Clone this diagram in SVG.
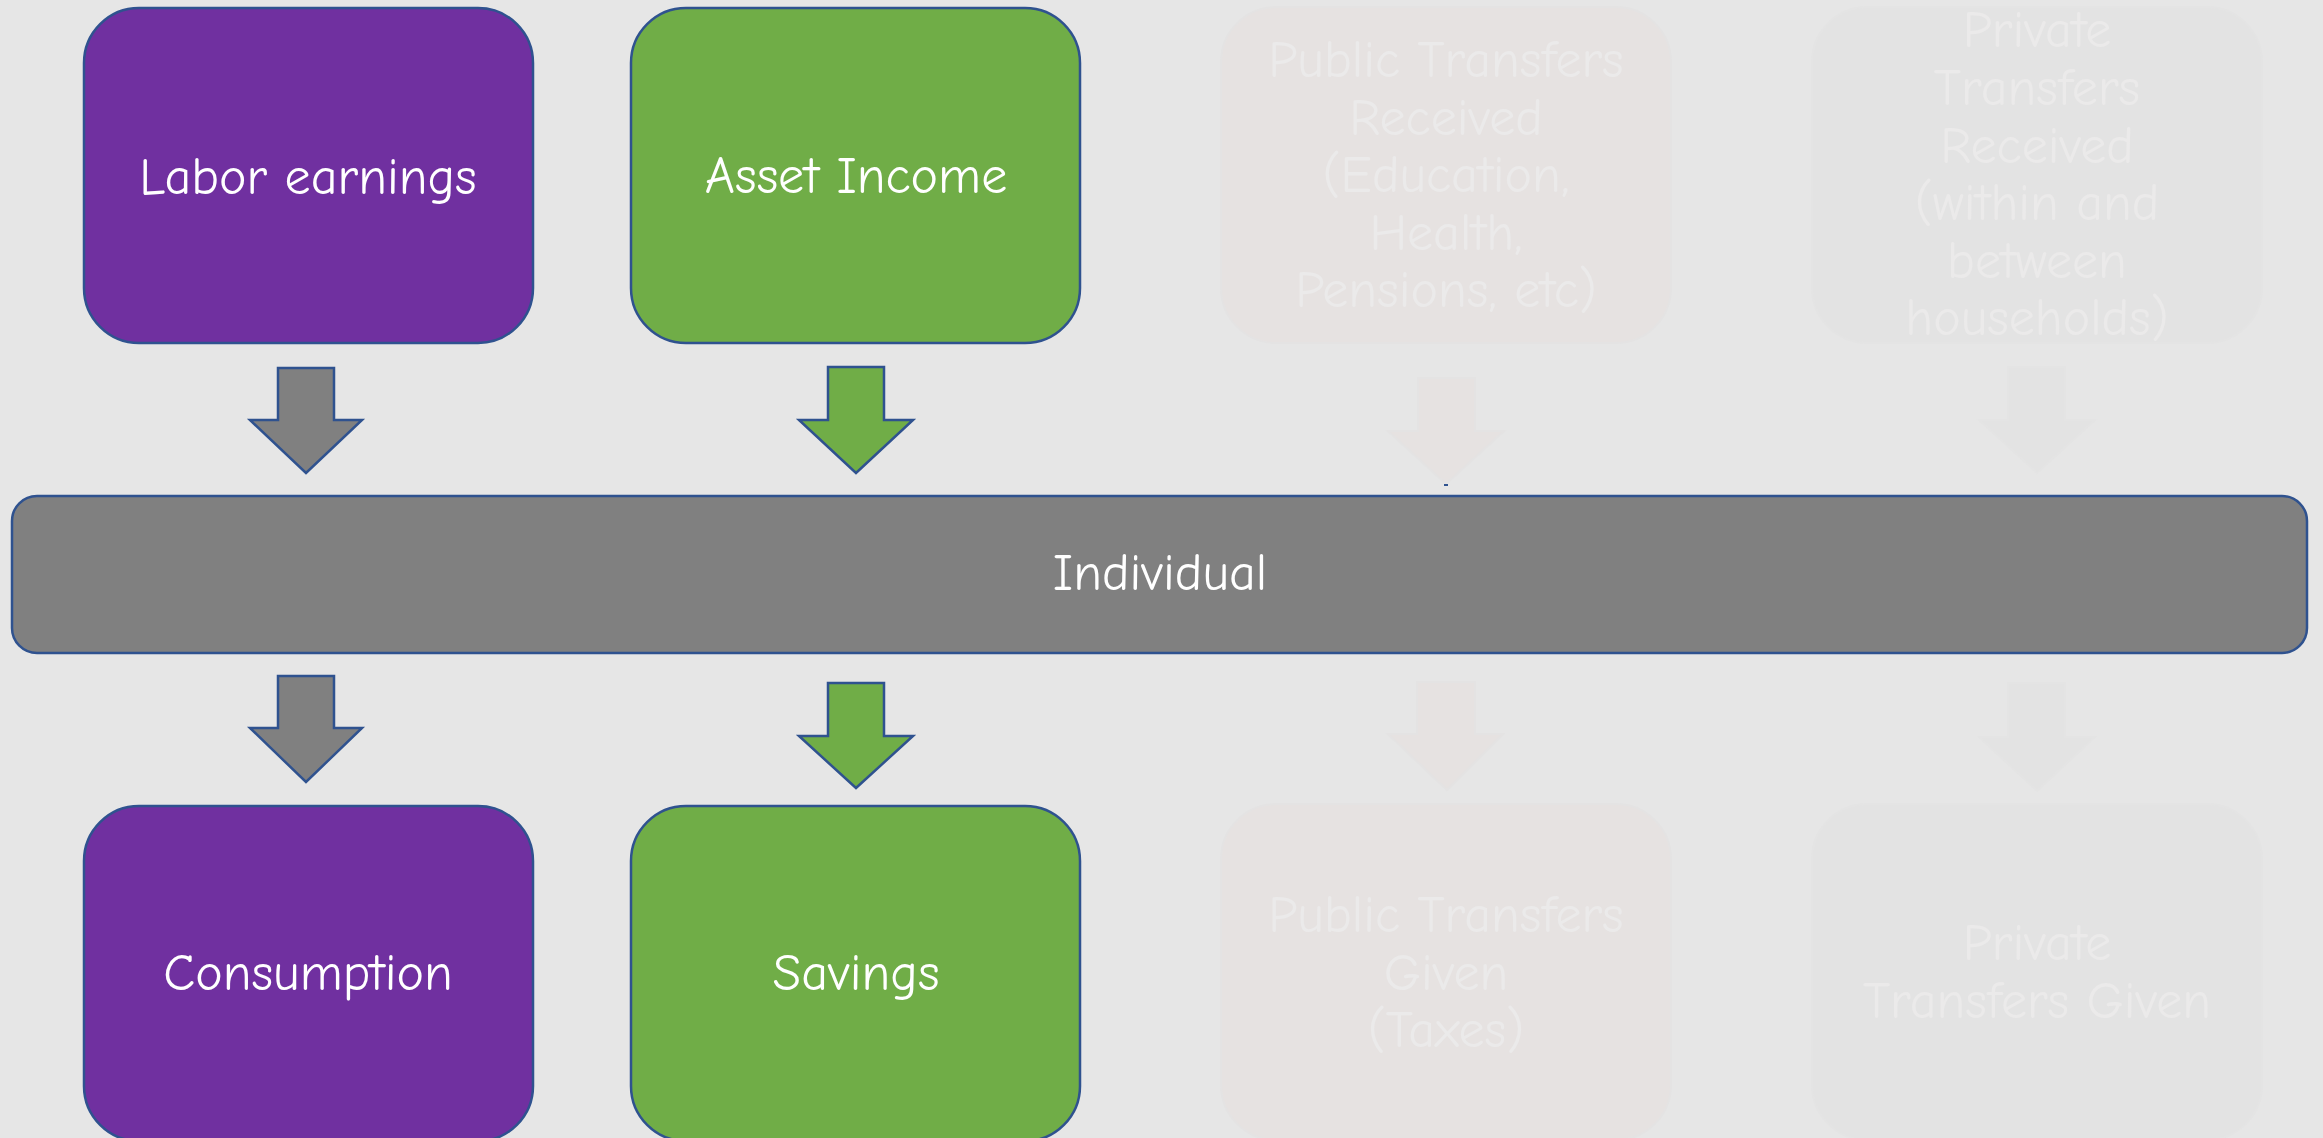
<svg xmlns="http://www.w3.org/2000/svg" width="2323" height="1138" viewBox="0 0 2323 1138">
<style>
text{font-family:"Comic Sans MS","Comic Neue","Noto Sans","DejaVu Sans",sans-serif;font-size:52px;text-anchor:middle}
.lbl{fill:#FFFFFF}
.fade{fill:#EBEAEA}
.box{stroke:#2F528F;stroke-width:2.5}
.purple{fill:#7030A0}
.green{fill:#70AD47}
.gray{fill:#808080}
.fpub{fill:#E6E2E1;stroke:#E4E3E3;stroke-width:2}
.fpri{fill:#E3E3E3;stroke:#E4E4E4;stroke-width:2}
.arr{stroke:#2F528F;stroke-width:2.5;stroke-linejoin:miter}
</style>
<rect x="0" y="0" width="2323" height="1138" fill="#E6E6E6"/>

<g id="labor-earnings">
<rect class="box purple" x="84" y="8" width="449" height="335" rx="55" ry="55"/>
<text class="lbl" x="308" y="194">Labor earnings</text>
</g>
<g id="asset-income">
<rect class="box green" x="631" y="8" width="449" height="335" rx="55" ry="55"/>
<text class="lbl" x="856" y="193">Asset Income</text>
</g>
<g id="public-transfers-received">
<rect class="fpub" x="1221" y="7" width="450" height="336" rx="55" ry="55"/>
<text class="fade" x="1446" y="77">Public Transfers</text>
<text class="fade" x="1446" y="135">Received</text>
<text class="fade" x="1446" y="192">(Education,</text>
<text class="fade" x="1446" y="250">Health,</text>
<text class="fade" x="1446" y="307">Pensions, etc)</text>
</g>
<g id="private-transfers-received">
<rect class="fpri" x="1812" y="7" width="450" height="336" rx="55" ry="55"/>
<text class="fade" x="2037" y="47">Private</text>
<text class="fade" x="2037" y="105">Transfers</text>
<text class="fade" x="2037" y="163">Received</text>
<text class="fade" x="2037" y="220">(within and</text>
<text class="fade" x="2037" y="278">between</text>
<text class="fade" x="2037" y="335">households)</text>
</g>
<g id="individual">
<rect class="box gray" x="12" y="496" width="2295" height="157" rx="25" ry="25"/>
<text class="lbl" x="1160" y="590">Individual</text>
</g>
<g id="consumption">
<rect class="box purple" x="84" y="806" width="449" height="335" rx="55" ry="55"/>
<text class="lbl" x="308" y="990">Consumption</text>
</g>
<g id="savings">
<rect class="box green" x="631" y="806" width="449" height="335" rx="55" ry="55"/>
<text class="lbl" x="856" y="990">Savings</text>
</g>
<g id="public-transfers-given">
<rect class="fpub" x="1221" y="804" width="450" height="336" rx="55" ry="55"/>
<text class="fade" x="1446" y="932">Public Transfers</text>
<text class="fade" x="1446" y="990">Given</text>
<text class="fade" x="1446" y="1047">(Taxes)</text>
</g>
<g id="private-transfers-given">
<rect class="fpri" x="1812" y="804" width="450" height="336" rx="55" ry="55"/>
<text class="fade" x="2037" y="960">Private</text>
<text class="fade" x="2037" y="1018">Transfers Given</text>
</g>

<g id="connectors">
<path class="arr gray" d="M278,368 H334 V420 H362 L306,473 L250,420 H278 Z"/>
<path class="arr green" d="M828,367 H884 V420 H913 L856,473 L799,420 H828 Z"/>
<path class="fpub" d="M1418,378 H1475 V431 H1504 L1446,484 L1388,431 H1418 Z"/>
<rect x="1444" y="484" width="4" height="2" fill="#2F528F"/>
<path class="fpri" d="M2008,367 H2065 V420 H2095 L2037,473 L1979,420 H2008 Z"/>
<path class="arr gray" d="M278,676 H334 V728 H362 L306,782 L250,728 H278 Z"/>
<path class="arr green" d="M828,683 H884 V736 H913 L856,788 L799,736 H828 Z"/>
<path class="fpub" d="M1417,682 H1475 V734 H1503 L1447,790 L1388,734 H1417 Z"/>
<path class="fpri" d="M2008,683 H2065 V737 H2095 L2037,791 L1979,737 H2008 Z"/>
</g>
</svg>
